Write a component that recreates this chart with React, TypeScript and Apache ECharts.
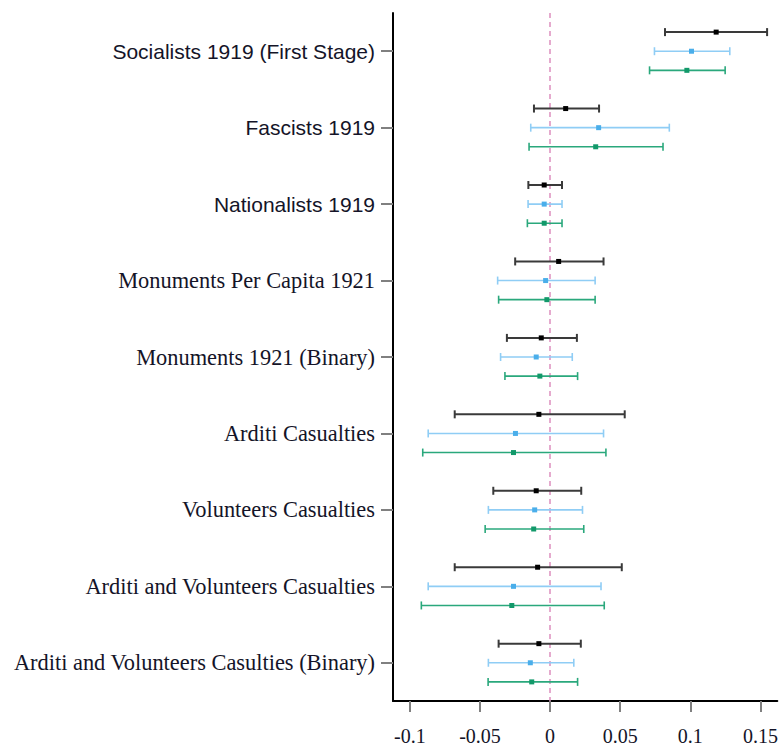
import React, { useEffect, useRef } from "react";
import * as echarts from "echarts";

const categories = [
  "Socialists 1919 (First Stage)",
  "Fascists 1919",
  "Nationalists 1919",
  "Monuments Per Capita 1921",
  "Monuments 1921 (Binary)",
  "Arditi Casualties",
  "Volunteers Casualties",
  "Arditi and Volunteers Casualties",
  "Arditi and Volunteers Casulties (Binary)",
];

// [low, estimate, high] per category
const blackSeries = [
  [0.0819, 0.1184, 0.1547],
  [-0.0115, 0.0111, 0.0349],
  [-0.0155, -0.0042, 0.0085],
  [-0.0249, 0.0061, 0.0381],
  [-0.0308, -0.0063, 0.0191],
  [-0.068, -0.008, 0.0532],
  [-0.0405, -0.0099, 0.0222],
  [-0.068, -0.0089, 0.0511],
  [-0.0367, -0.008, 0.0219],
];
const blueSeries = [
  [0.0744, 0.1008, 0.1281],
  [-0.0138, 0.0346, 0.085],
  [-0.0157, -0.0042, 0.0085],
  [-0.0374, -0.0032, 0.0321],
  [-0.0353, -0.0099, 0.0158],
  [-0.0869, -0.0247, 0.0381],
  [-0.044, -0.011, 0.0231],
  [-0.0869, -0.0261, 0.0363],
  [-0.044, -0.0141, 0.0169],
];
const greenSeries = [
  [0.0709, 0.0975, 0.1248],
  [-0.015, 0.0325, 0.0805],
  [-0.0162, -0.0042, 0.0085],
  [-0.0367, -0.0023, 0.0321],
  [-0.0322, -0.0073, 0.0196],
  [-0.0908, -0.0261, 0.0398],
  [-0.0463, -0.0117, 0.024],
  [-0.0918, -0.0273, 0.0386],
  [-0.0442, -0.0131, 0.0196],
];
const xTicks = [-0.1, -0.05, 0, 0.05, 0.1, 0.15];

const styles = [
  { line: "#3a3a3a", point: "#000000", width: 2, offset: -0.25 },
  { line: "#8fcdf5", point: "#4aaeea", width: 1.6, offset: 0 },
  { line: "#2aa87c", point: "#12996a", width: 1.6, offset: 0.25 },
];

function makeSeries(rows: number[][], k: number) {
  const st = styles[k];
  return {
    type: "custom",
    encode: { x: [1, 2, 3], y: 0 },
    data: rows.map((r, i) => [i, r[0], r[1], r[2]]),
    z: 3,
    renderItem: (params: any, api: any) => {
      const cat = api.value(0);
      const lo = api.coord([api.value(1), cat]);
      const est = api.coord([api.value(2), cat]);
      const hi = api.coord([api.value(3), cat]);
      const band = api.size([0, 1])[1];
      const y = lo[1] + st.offset * band;
      const capH = 4;
      const lineStyle = { stroke: st.line, lineWidth: st.width };
      return {
        type: "group",
        children: [
          { type: "line", shape: { x1: lo[0], y1: y, x2: hi[0], y2: y }, style: lineStyle },
          { type: "line", shape: { x1: lo[0], y1: y - capH, x2: lo[0], y2: y + capH }, style: lineStyle },
          { type: "line", shape: { x1: hi[0], y1: y - capH, x2: hi[0], y2: y + capH }, style: lineStyle },
          { type: "rect", shape: { x: est[0] - 2.5, y: y - 2.5, width: 5, height: 5 }, style: { fill: st.point } },
        ],
      };
    },
    ...(k === 0
      ? {
          markLine: {
            silent: true,
            symbol: "none",
            z: 1,
            label: { show: false },
            lineStyle: { color: "#dd8fbf", width: 1.5, type: [5, 4] },
            data: [{ xAxis: 0 }],
          },
        }
      : {}),
  };
}

export default function App() {
  const ref = useRef<HTMLDivElement>(null);
  useEffect(() => {
    if (!ref.current) return;
    const chart = echarts.init(ref.current, undefined, { renderer: "svg" });
    chart.setOption({
      animation: false,
      backgroundColor: "#ffffff",
      grid: { left: 393, top: 13, right: 0, bottom: 50, containLabel: false },
      xAxis: {
        type: "value",
        min: -0.112,
        max: 0.162,
        splitLine: { show: false },
        axisLine: { show: true, onZero: false, lineStyle: { color: "#000", width: 2 } },
        axisTick: {
          show: true,
          length: 11,
          customValues: xTicks,
          lineStyle: { color: "#808080", width: 2 },
        },
        axisLabel: {
          customValues: xTicks,
          margin: 25,
          fontFamily: "Liberation Serif",
          fontSize: 20,
          color: "#141428",
          formatter: (v: number) => String(parseFloat(v.toFixed(3))),
        },
      },
      yAxis: {
        type: "category",
        inverse: true,
        data: categories,
        boundaryGap: true,
        axisLine: { show: true, onZero: false, lineStyle: { color: "#000", width: 2 } },
        axisTick: {
          show: true,
          alignWithLabel: true,
          length: 12,
          lineStyle: { color: "#808080", width: 2 },
        },
        axisLabel: {
          margin: 18,
          color: "#141428",
          formatter: (v: string) => {
            const i = categories.indexOf(v);
            return i < 3 ? `{s|${v}}` : `{t|${v}}`;
          },
          rich: {
            s: { fontFamily: "Liberation Sans", fontSize: 21, color: "#141428" },
            t: { fontFamily: "Liberation Serif", fontSize: 22.4, color: "#141428" },
          },
        },
        splitLine: { show: false },
      },
      series: [makeSeries(blackSeries, 0), makeSeries(blueSeries, 1), makeSeries(greenSeries, 2)],
    });
    return () => chart.dispose();
  }, []);
  return (
    <div
      ref={ref}
      style={{ position: "fixed", left: 0, top: 0, width: 781, height: 751, background: "#fff" }}
    />
  );
}
